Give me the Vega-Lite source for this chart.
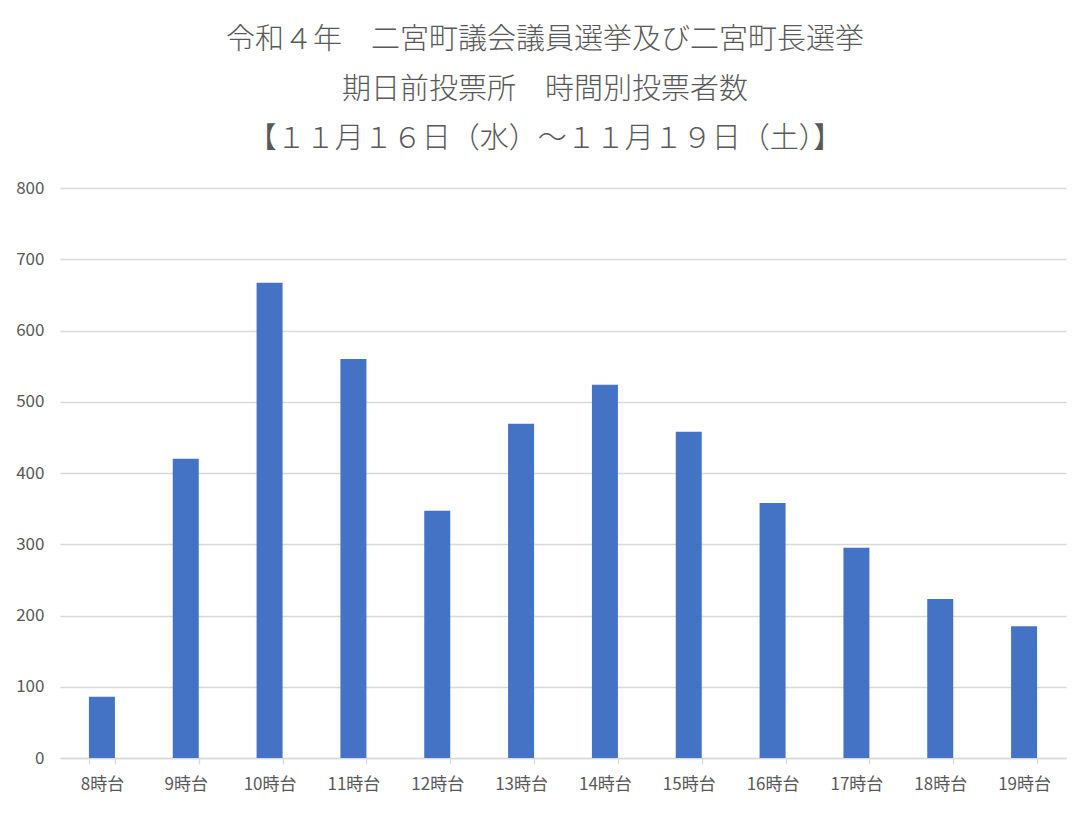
{
  "$schema": "https://vega.github.io/schema/vega-lite/v6.json",
  "autosize": "none",
  "width": 1006,
  "height": 570,
  "padding": {"left": 60, "top": 188, "right": 24, "bottom": 58},
  "background": "white",
  "title": {
    "text": ["令和４年　二宮町議会議員選挙及び二宮町長選挙", "期日前投票所　時間別投票者数", "【１１月１６日（水）～１１月１９日（土）】"],
    "font": "Noto Sans CJK JP",
    "fontWeight": 300,
    "fontSize": 29,
    "lineHeight": 49.5,
    "color": "#595959",
    "anchor": "middle",
    "dx": -18,
    "offset": 25
  },
  "data": {
    "values": [
      {"hour": "8時台", "count": 86},
      {"hour": "9時台", "count": 420},
      {"hour": "10時台", "count": 667},
      {"hour": "11時台", "count": 560},
      {"hour": "12時台", "count": 347},
      {"hour": "13時台", "count": 469},
      {"hour": "14時台", "count": 524},
      {"hour": "15時台", "count": 458},
      {"hour": "16時台", "count": 358},
      {"hour": "17時台", "count": 295},
      {"hour": "18時台", "count": 223},
      {"hour": "19時台", "count": 185}
    ]
  },
  "mark": {"type": "bar", "color": "#4472c4"},
  "encoding": {
    "x": {
      "field": "hour",
      "type": "nominal",
      "sort": null,
      "scale": {"paddingInner": 0.69, "paddingOuter": 0.345},
      "axis": {
        "title": null,
        "labelAngle": 0,
        "labelFont": "Noto Sans CJK JP",
        "labelFontSize": 17,
        "labelColor": "#595959",
        "domainColor": "#d9d9d9",
        "domainWidth": 1.3,
        "tickColor": "#d9d9d9",
        "tickWidth": 1.3,
        "tickSize": 6,
        "tickBand": "extent",
        "labelPadding": 12,
        "grid": false
      }
    },
    "y": {
      "field": "count",
      "type": "quantitative",
      "scale": {"domain": [0, 800]},
      "axis": {
        "title": null,
        "values": [0, 100, 200, 300, 400, 500, 600, 700, 800],
        "labelFont": "Noto Sans CJK JP",
        "labelFontSize": 17,
        "labelColor": "#595959",
        "ticks": false,
        "domain": false,
        "labelPadding": 16,
        "gridColor": "#d9d9d9",
        "gridWidth": 1.3
      }
    }
  },
  "config": {"view": {"stroke": null}}
}
